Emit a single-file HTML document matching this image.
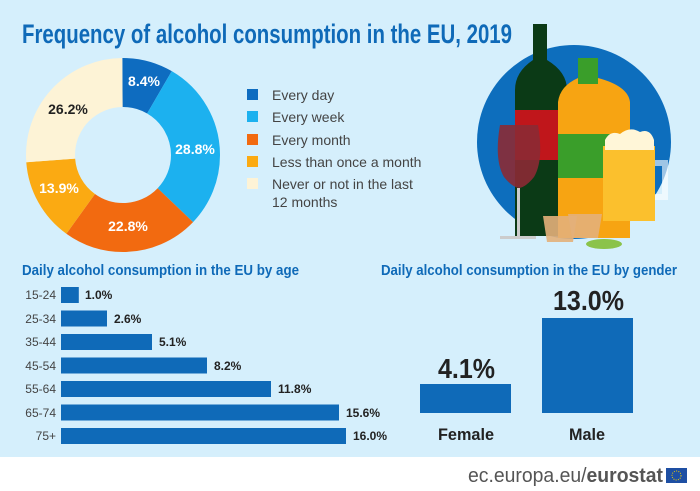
<!DOCTYPE html>
<html><head><meta charset="utf-8"><style>
html,body{margin:0;padding:0;background:#fff}
svg{display:block}
text{font-family:"Liberation Sans",sans-serif}
</style></head><body>
<svg width="700" height="491" viewBox="0 0 700 491" xmlns="http://www.w3.org/2000/svg">
<rect width="700" height="457" fill="#d5effc"/>
<rect y="457" width="700" height="34" fill="#fff"/>
<text x="22" y="43" font-size="27" font-weight="bold" fill="#0f6ab8" textLength="490" lengthAdjust="spacingAndGlyphs">Frequency of alcohol consumption in the EU, 2019</text>

<!-- donut -->
<g transform="rotate(-90 123 155)" fill="none" stroke-width="49">
<circle cx="123" cy="155" r="72.5" pathLength="100" stroke="#0e6cc0" stroke-dasharray="8.4 91.6" stroke-dashoffset="0"/>
<circle cx="123" cy="155" r="72.5" pathLength="100" stroke="#1cb1ef" stroke-dasharray="28.8 71.2" stroke-dashoffset="-8.4"/>
<circle cx="123" cy="155" r="72.5" pathLength="100" stroke="#f26a10" stroke-dasharray="22.8 77.2" stroke-dashoffset="-37.2"/>
<circle cx="123" cy="155" r="72.5" pathLength="100" stroke="#fbaa12" stroke-dasharray="13.9 86.1" stroke-dashoffset="-60"/>
<circle cx="123" cy="155" r="72.5" pathLength="100" stroke="#fdf3d6" stroke-dasharray="26.1 73.9" stroke-dashoffset="-73.9"/>
</g>
<g font-size="14" font-weight="bold" text-anchor="middle">
<text x="144" y="86" fill="#fff">8.4%</text>
<text x="195" y="154" fill="#fff">28.8%</text>
<text x="128" y="231" fill="#fff">22.8%</text>
<text x="59" y="193" fill="#fff">13.9%</text>
<text x="68" y="114" fill="#222">26.2%</text>
</g>
<!-- legend -->
<rect x="247" y="89" width="11" height="11" fill="#0e6cc0"/>
<rect x="247" y="111" width="11" height="11" fill="#1cb1ef"/>
<rect x="247" y="134" width="11" height="11" fill="#f26a10"/>
<rect x="247" y="156" width="11" height="11" fill="#fbaa12"/>
<rect x="247" y="178" width="11" height="11" fill="#fdf3d6"/>
<g font-size="14" fill="#444">
<text x="272" y="100">Every day</text>
<text x="272" y="122">Every week</text>
<text x="272" y="145">Every month</text>
<text x="272" y="167">Less than once a month</text>
<text x="272" y="189">Never or not in the last</text>
<text x="272" y="207">12 months</text>
</g>

<!-- illustration -->
<circle cx="574" cy="142" r="97" fill="#0d6ebd"/>
<path d="M533 24 h14 v36 q20 12 20 30 v146 h-52 v-146 q0 -18 18 -30z" fill="#0b3a16"/>
<rect x="515" y="110" width="52" height="50" fill="#c0161b"/>
<path d="M578 58 h20 v20 q30 8 32 24 v136 h-72 v-136 q2 -16 20 -24z" fill="#f7a412"/>
<rect x="578" y="58" width="20" height="26" fill="#3a9e2a"/>
<rect x="558" y="134" width="72" height="44" fill="#3a9e2a"/>
<path d="M500 125 h38 q6 35 -4 52 q-8 10 -15 11 q-7 -1 -15 -11 q-10 -17 -4 -52z" fill="#8b2a34" opacity="0.9"/>
<rect x="517" y="188" width="3" height="50" fill="#ccc"/>
<rect x="500" y="236" width="36" height="3" fill="#ccc"/>
<path d="M603 146 h52 v75 h-52z" fill="#fbc02d"/>
<path d="M605 140 q5 -10 15 -6 q10 -8 20 -2 q10 -4 14 8 v10 h-49z" fill="#fff6d8"/>
<path d="M655 160 h13 v40 h-13 v-6 h7 v-28 h-7z" fill="#fff" opacity="0.6"/>
<path d="M543 216 h34 l-4 26 h-26z" fill="#e3b07a" opacity="0.9"/>
<path d="M568 214 h34 l-4 24 h-26z" fill="#e3b07a" opacity="0.9"/>
<ellipse cx="604" cy="244" rx="18" ry="5" fill="#8bc34a"/>

<!-- age chart -->
<text x="22" y="275" font-size="15" font-weight="bold" fill="#0f6ab8" textLength="277" lengthAdjust="spacingAndGlyphs">Daily alcohol consumption in the EU by age</text>
<g fill="#0f6ab8">
<rect x="61" y="287" width="17.8" height="16"/>
<rect x="61" y="310.5" width="46" height="16"/>
<rect x="61" y="334" width="91" height="16"/>
<rect x="61" y="357.5" width="146" height="16"/>
<rect x="61" y="381" width="210" height="16"/>
<rect x="61" y="404.5" width="278" height="16"/>
<rect x="61" y="428" width="285" height="16"/>
</g>
<g font-size="12" fill="#444" text-anchor="end">
<text x="56" y="299">15-24</text>
<text x="56" y="323">25-34</text>
<text x="56" y="346">35-44</text>
<text x="56" y="370">45-54</text>
<text x="56" y="393">55-64</text>
<text x="56" y="417">65-74</text>
<text x="56" y="440">75+</text>
</g>
<g font-size="12" font-weight="bold" fill="#222">
<text x="85" y="299">1.0%</text>
<text x="114" y="323">2.6%</text>
<text x="159" y="346">5.1%</text>
<text x="214" y="370">8.2%</text>
<text x="278" y="393">11.8%</text>
<text x="346" y="417">15.6%</text>
<text x="353" y="440">16.0%</text>
</g>

<!-- gender chart -->
<text x="381" y="275" font-size="15" font-weight="bold" fill="#0f6ab8" textLength="296" lengthAdjust="spacingAndGlyphs">Daily alcohol consumption in the EU by gender</text>
<rect x="420" y="384" width="91" height="29" fill="#0f6ab8"/>
<rect x="542" y="318" width="91" height="95" fill="#0f6ab8"/>
<g font-weight="bold" fill="#222">
<text x="438" y="378" font-size="28" textLength="57" lengthAdjust="spacingAndGlyphs">4.1%</text>
<text x="553" y="310" font-size="28" textLength="71" lengthAdjust="spacingAndGlyphs">13.0%</text>
<text x="438" y="440" font-size="17" textLength="56" lengthAdjust="spacingAndGlyphs">Female</text>
<text x="569" y="440" font-size="17" textLength="36" lengthAdjust="spacingAndGlyphs">Male</text>
</g>

<!-- footer -->
<text x="468" y="482" font-size="20" fill="#555" textLength="195" lengthAdjust="spacingAndGlyphs">ec.europa.eu/<tspan font-weight="bold">eurostat</tspan></text>
<rect x="666" y="468" width="21" height="15" fill="#1e4fa3"/>
<circle cx="676.5" cy="475.5" r="4.5" fill="none" stroke="#f5d000" stroke-width="1" stroke-dasharray="1 1.3"/>
</svg>
</body></html>
